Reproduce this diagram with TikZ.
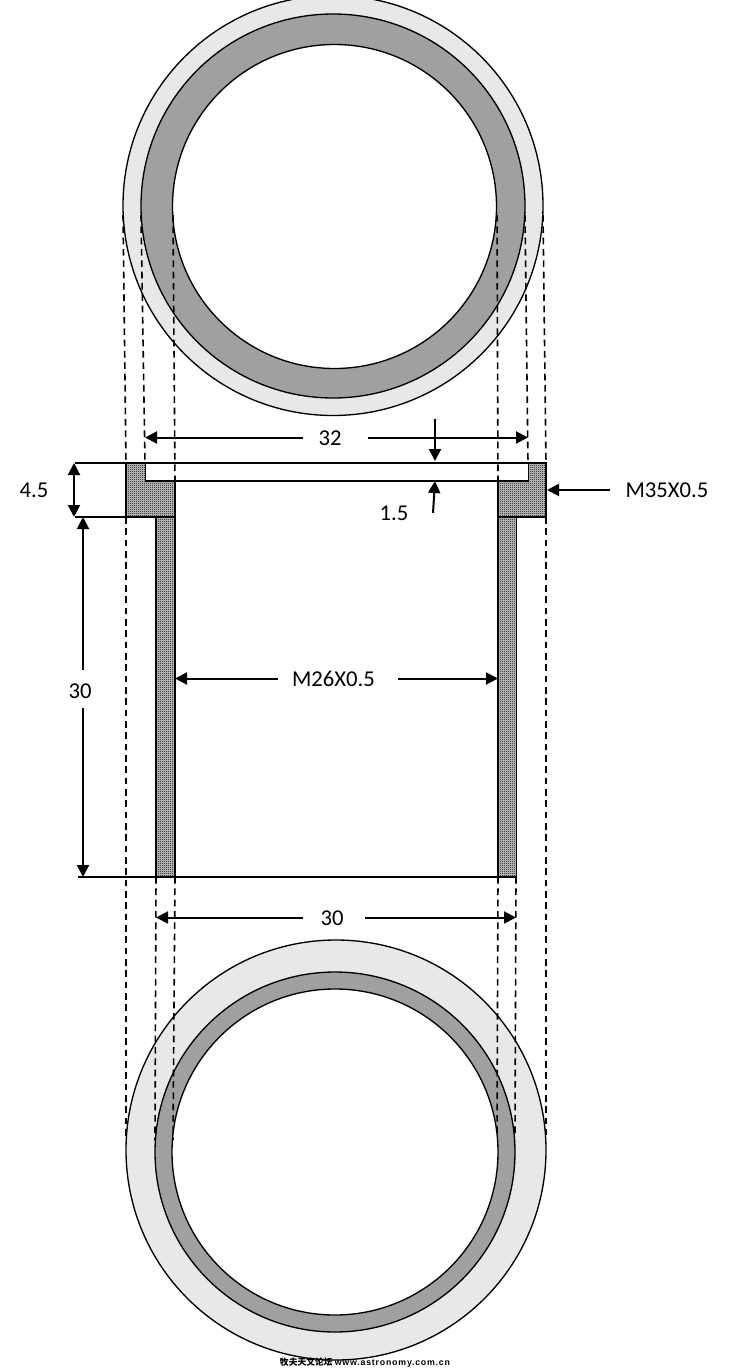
\documentclass[tikz,border=0pt]{standalone}
\usepackage{fontspec}
\setmainfont{Carlito}
\newfontfamily\cjkfont{Noto Sans CJK SC}
\newfontfamily\markfont{Liberation Sans}
\usetikzlibrary{arrows.meta,patterns}
\pgfdeclarepatternformonly{finecheck}{\pgfqpoint{0pt}{0pt}}{\pgfqpoint{1.5pt}{1.5pt}}{\pgfqpoint{1.5pt}{1.5pt}}{
    \pgfpathrectangle{\pgfqpoint{0pt}{0pt}}{\pgfqpoint{0.75pt}{0.75pt}}
    \pgfpathrectangle{\pgfqpoint{0.75pt}{0.75pt}}{\pgfqpoint{0.75pt}{0.75pt}}
    \pgfusepath{fill}
}
\definecolor{ringlight}{HTML}{E8E8E8}
\definecolor{ringdark}{HTML}{A0A0A0}
\tikzset{
    outline/.style={draw=black,line width=1pt},
    section/.style={outline,preaction={fill=black!22},pattern=finecheck,pattern color=black},
    hidden/.style={dash pattern=on 5pt off 3.5pt,line width=1.2pt},
    dimline/.style={line width=1.5pt,-{Triangle[length=9pt,width=9pt]}},
    dimboth/.style={line width=1.5pt,{Triangle[length=9pt,width=9pt]}-{Triangle[length=9pt,width=9pt]}},
    dimtext/.style={font=\fontsize{17}{20}\selectfont,inner sep=0pt}
}

\begin{document}
\begin{tikzpicture}[x=0.75pt,y=-0.75pt]
        \useasboundingbox (0,0) rectangle (729,1370);

        % top view
        \draw[outline,fill=ringlight] (333,205.5) circle(210);
        \draw[outline,fill=ringdark] (333,206) circle(192);
        \draw[outline,fill=white] (334.5,206.5) circle(162);

        % bottom view
        \draw[outline,fill=ringlight] (336,1150) circle(210);
        \draw[outline,fill=ringdark] (335,1152) circle(180);
        \draw[outline,fill=white] (335,1152) circle(163);

        % section of the tube
        \draw[section] (126,463) -- (145.5,463) -- (145.5,481) -- (175,481) -- (175,877)
            -- (156,877) -- (156,517) -- (126,517) -- cycle;
        \draw[section] (498,481) -- (528.5,481) -- (528.5,463) -- (546,463) -- (546,517)
            -- (516.5,517) -- (516.5,877) -- (498,877) -- cycle;

        % extension lines
        \draw[outline] (75,463) -- (546,463);
        \draw[outline] (145.5,481) -- (528.5,481);
        \draw[outline] (75,517) -- (175,517);
        \draw[outline] (498,517) -- (546,517);
        \draw[outline] (78,877) -- (516.5,877);

        % dashed lines between the views
        \draw[hidden] (123,215) -- (126,463);
        \draw[hidden] (126,517) -- (126,1140);
        \draw[hidden] (141,215) -- (145,463);
        \draw[hidden] (173,215) -- (175,481);
        \draw[hidden] (175,877) -- (173,1140);
        \draw[hidden] (156,877) -- (155,1140);
        \draw[hidden] (497,215) -- (498,481);
        \draw[hidden] (498,877) -- (497,1135);
        \draw[hidden] (525,215) -- (528,463);
        \draw[hidden] (543,215) -- (546,463);
        \draw[hidden] (546,517) -- (546,1135);
        \draw[hidden] (516,877) -- (515,1135);

        % text at the arrows
        \node[dimtext] (lblTop) at (330,438.5) {32};
        \node[dimtext] (lblDepth) at (394,513.5) {1.5};
        \node[dimtext] (lblOuter) at (667,490.5) {M35X0.5};
        \node[dimtext] (lblFlange) at (34,490.5) {4.5};
        \node[dimtext] (lblLength) at (80,691) {30};
        \node[dimtext] (lblInner) at (333.5,679) {M26X0.5};
        \node[dimtext] (lblBottom) at (332,918) {30};

        % free ends of the arrows
        \coordinate (topL) at (145,437.5);
        \coordinate (topR) at (528,437.5);
        \coordinate (topS) at (303,437.5);
        \coordinate (topE) at (368,437.5);
        \coordinate (depthA) at (435,419);
        \coordinate (depthB) at (435,461);
        \coordinate (depthC) at (433,513);
        \coordinate (depthD) at (435,481);
        \coordinate (outerA) at (610,490);
        \coordinate (outerB) at (547,490);
        \coordinate (flangeA) at (74,463);
        \coordinate (flangeB) at (74,517);
        \coordinate (lengthA) at (83,517);
        \coordinate (lengthB) at (83,877);
        \coordinate (lengthS) at (83,670);
        \coordinate (lengthE) at (83,708);
        \coordinate (innerL) at (175,678.5);
        \coordinate (innerR) at (498,678.5);
        \coordinate (innerS) at (278,678.5);
        \coordinate (innerE) at (398,678.5);
        \coordinate (bottomL) at (156,917.5);
        \coordinate (bottomR) at (516,917.5);
        \coordinate (bottomS) at (303,917.5);
        \coordinate (bottomE) at (365,917.5);

        % arrows
        \draw[dimline] (topS) -- (topL);
        \draw[dimline] (topE) -- (topR);
        \draw[dimline] (depthA) -- (depthB);
        \draw[dimline] (depthC) -- (depthD);
        \draw[dimline] (outerA) -- (outerB);
        \draw[dimboth] (flangeA) -- (flangeB);
        \draw[dimline] (lengthS) -- (lengthA);
        \draw[dimline] (lengthE) -- (lengthB);
        \draw[dimline] (innerS) -- (innerL);
        \draw[dimline] (innerE) -- (innerR);
        \draw[dimline] (bottomS) -- (bottomL);
        \draw[dimline] (bottomE) -- (bottomR);

        % line at the foot of the page
        \node[inner sep=0pt,font=\fontsize{6.6}{7}\selectfont\bfseries] (lblSite) at (365,1362.5)
            {{\cjkfont 牧夫天文论坛} {\markfont\addfontfeatures{LetterSpace=9}www.astronomy.com.cn}};
\end{tikzpicture}
\end{document}
